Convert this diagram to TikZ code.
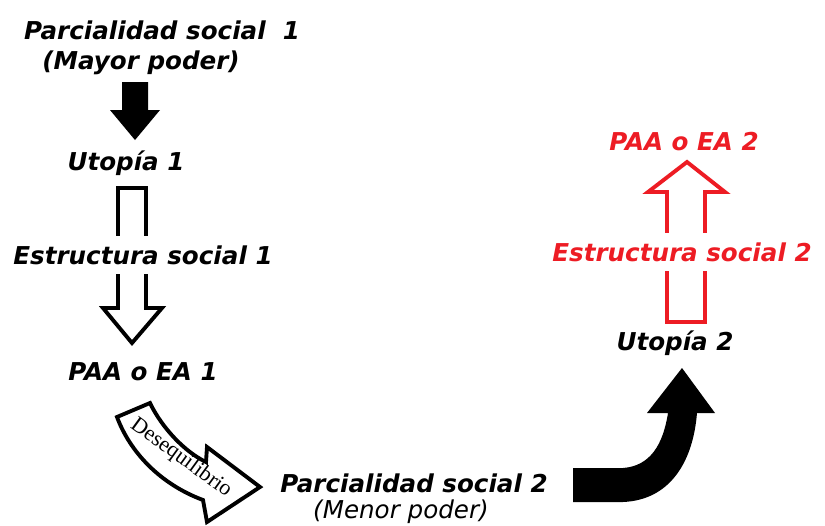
\documentclass[tikz,border=0pt]{standalone}
\usepackage{fontspec}
\setmainfont{DejaVu Sans}
\newfontfamily\deseqfont{Liberation Serif}
\usepackage{xcolor}
\usepackage{tikz}
\definecolor{flechared}{RGB}{237,28,36}

\tikzset{
  etiqueta/.style={font=\bfseries\itshape\fontsize{14}{16}\selectfont, inner sep=1pt},
  etiquetared/.style={etiqueta, text=flechared},
  tapa/.style={fill=white, minimum height=0.75cm},
  hueca/.style={draw, line width=2.2pt, line join=miter, fill=white},
}

\begin{document}
\begin{tikzpicture}[x=0.02cm,y=-0.02cm]
\useasboundingbox (0,0) rectangle (825,525);

% columna izquierda
\node[etiqueta] (parcial1) at (162,30) {Parcialidad social\ \ 1};
\node[etiqueta] (mayor) at (141,63) {(Mayor poder)};
\node[etiqueta] (utopia1) at (126,163) {Utopía 1};
\node[etiqueta] (paa1) at (143,372) {PAA o EA 1};

\fill (122,82) -- (148,82) -- (148,110) -- (160,110) -- (135,140) -- (110,110) -- (122,110) -- cycle;
\draw[hueca] (118,188) -- (146,188) -- (146,308) -- (162,308) -- (132,343) -- (103,308) -- (118,308) -- cycle;
\node[etiqueta, tapa] (estruc1) at (143,255) {Estructura social 1};

% desequilibrio
\draw[hueca] (117,417) -- (150,403) .. controls (162,428) and (185,452) .. (206,462)
  -- (207,447) -- (260,487) -- (207,522) -- (203,500)
  .. controls (160,484) and (130,452) .. (117,417) -- cycle;
\node[font=\deseqfont\fontsize{12.5}{14}\selectfont, rotate=-36, inner sep=0pt] (deseq) at (181,458) {Desequilibrio};

% abajo
\node[etiqueta] (parcial2) at (414,483) {Parcialidad social 2};
\node[font=\itshape\fontsize{14}{16}\selectfont, inner sep=1pt] (menor) at (401,512) {(Menor poder)};

% flecha negra curva
\fill (573,468) -- (623,468) .. controls (650,466) and (663,445) .. (668,413)
  -- (647,413) -- (682,368) -- (715,413) -- (697,413)
  .. controls (693,462) and (670,500) .. (623,502) -- (573,502) -- cycle;

% columna derecha
\node[etiqueta] (utopia2) at (675,343) {Utopía 2};
\node[etiquetared] (paa2) at (684,142) {PAA o EA 2};
\draw[hueca, draw=flechared] (667,322) -- (705,322) -- (705,192) -- (725,192) -- (687,162) -- (648,192) -- (667,192) -- cycle;
\node[etiquetared, tapa] (estruc2) at (682,252) {Estructura social 2};
\end{tikzpicture}
\end{document}
